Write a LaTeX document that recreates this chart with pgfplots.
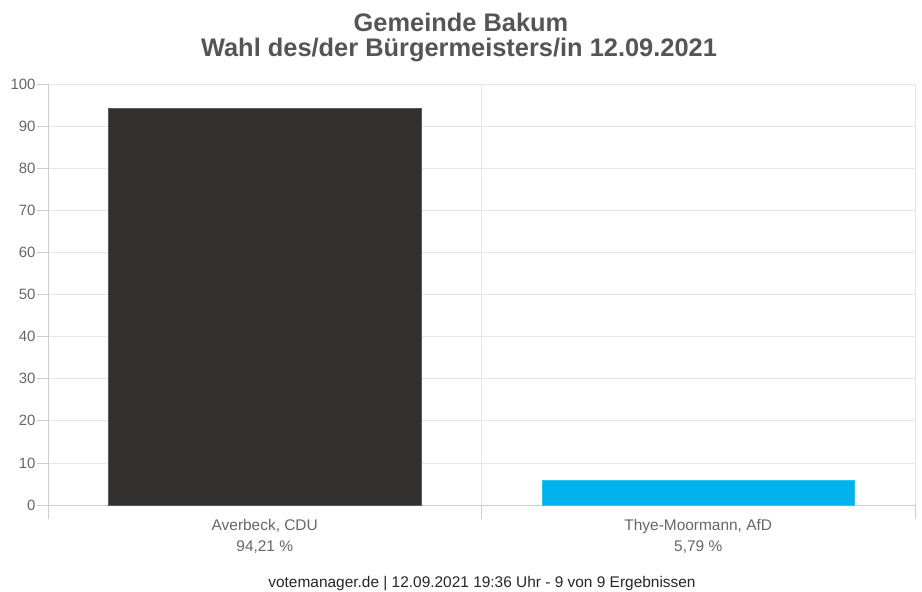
\documentclass[border=0pt]{standalone}
\usepackage{fontspec}
\setmainfont{Liberation Sans}
\usepackage{pgfplots}
\pgfplotsset{compat=1.18}
\definecolor{barDark}{HTML}{333130}
\definecolor{barBlue}{HTML}{00B2EB}
\definecolor{gridGray}{HTML}{E6E6E6}
\definecolor{axisGray}{HTML}{CCCCCC}
\definecolor{tickText}{HTML}{666666}
\definecolor{titleText}{HTML}{555555}
\begin{document}
\begin{tikzpicture}
\path[use as bounding box] (-48bp,-87bp) rectangle (874bp,505bp);
\begin{axis}[
  at={(0,0)}, anchor=south west,
  scale only axis,
  width=867bp, height=421bp,
  ybar, bar width=0.72,
  xmin=-0.5, xmax=1.5,
  ymin=0, ymax=100,
  ytick={0,10,...,100},
  xtick={0,1},
  xticklabels={{Averbeck, CDU\\94,21 \%},{Thye-Moormann, AfD\\5,79 \%}},
  x tick label style={align=center, font=\fontsize{15.5}{21}\selectfont, text=tickText},
  y tick label style={font=\fontsize{15}{18}\selectfont, text=tickText},
  /pgf/number format/assume math mode=true,
  minor xtick={-0.5,0.5,1.5},
  xminorgrids, ymajorgrids,
  grid style={gridGray, line width=0.8pt},
  minor grid style={gridGray, line width=0.8pt},
  axis lines=left,
  axis line style={-, axisGray, line width=0.8pt},
  tick align=outside,
  major tick length=11bp,
  minor tick length=14bp,
  every major x tick/.append style={draw=none},
  tick style={axisGray, line width=0.8pt},
  xticklabel shift=0bp,
  yticklabel shift=-2bp,
]
\addplot[fill=barDark, draw=barDark!80!white, bar shift=0pt] coordinates {(0,94.21)};
\addplot[fill=barBlue, draw=barBlue!80!white, bar shift=0pt] coordinates {(1,5.79)};
\end{axis}
\node[font=\bfseries\fontsize{25.5}{28}\selectfont, text=titleText] at (413bp,483bp) {Gemeinde Bakum};
\node[font=\bfseries\fontsize{25.5}{28}\selectfont, text=titleText] at (411bp,455bp) {Wahl des/der Bürgermeisters/in 12.09.2021};
\node[font=\fontsize{15.5}{18}\selectfont, text=black!85] at (434bp,-79bp) {votemanager.de | 12.09.2021 19:36 Uhr - 9 von 9 Ergebnissen};
\end{tikzpicture}
\end{document}
